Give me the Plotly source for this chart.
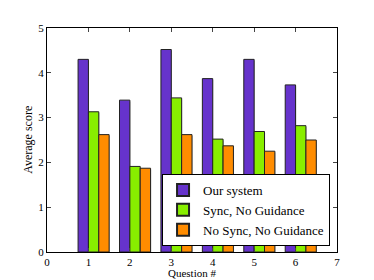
import plotly.graph_objects as go

questions = [1, 2, 3, 4, 5, 6]
series_names = ["Our system", "Sync, No Guidance", "No Sync, No Guidance"]
our_system = [4.30, 3.39, 4.52, 3.87, 4.30, 3.73]
sync_no_guidance = [3.13, 1.91, 3.44, 2.52, 2.69, 2.82]
nosync_no_guidance = [2.62, 1.87, 2.62, 2.37, 2.25, 2.50]
colors = ["#6633CC", "#88EE00", "#FF8C00"]
offsets = [-0.25, 0.0, 0.25]
x_title = "Question #"
y_title = "Average score"

font = "Times New Roman, Liberation Serif, serif"

fig = go.Figure()
for name, vals, c, off in zip(series_names,
                              [our_system, sync_no_guidance, nosync_no_guidance],
                              colors, offsets):
    # drop shadow
    fig.add_trace(go.Bar(x=[q + 0.015 for q in questions], y=vals, width=0.25, offset=off,
                         marker=dict(color="rgba(0,0,0,0.25)", line=dict(width=0)),
                         showlegend=False, hoverinfo="skip", base=[-0.03] * len(vals)))
    fig.add_trace(go.Bar(x=questions, y=vals, name=name, width=0.25, offset=off,
                         marker=dict(color=c, line=dict(color="#222", width=1))))

fig.update_layout(
    width=374, height=280,
    barmode="overlay",
    plot_bgcolor="white", paper_bgcolor="white",
    margin=dict(l=47, r=37, t=28, b=28),
    font=dict(family=font, size=12, color="black"),
    legend=dict(x=0.976, y=0.027, xanchor="right", yanchor="bottom",
                bordercolor="black", borderwidth=1, bgcolor="white",
                font=dict(size=13, family=font), traceorder="normal",
                itemsizing="constant", tracegroupgap=0),
    xaxis=dict(range=[0, 7], tickvals=list(range(0, 8)), ticks="inside", ticklen=4,
               showline=True, linecolor="black", linewidth=1, mirror="ticks",
               showgrid=False, zeroline=False, automargin=False,
               tickfont=dict(size=11)),
    yaxis=dict(range=[0, 5], tickvals=list(range(0, 6)), ticks="inside", ticklen=4,
               showline=True, linecolor="black", linewidth=1, mirror="ticks",
               showgrid=False, zeroline=False, automargin=False,
               tickfont=dict(size=11)),
    annotations=[
        dict(text=x_title, xref="paper", yref="paper", x=0.5, y=-0.058,
             xanchor="center", yanchor="top", showarrow=False,
             font=dict(size=11, family=font)),
        dict(text=y_title, xref="paper", yref="paper", x=-0.035, y=0.5,
             xanchor="right", yanchor="middle", textangle=-90, showarrow=False,
             font=dict(size=12, family=font)),
    ],
)
fig.write_html("out.html", config={"displayModeBar": False},
               post_script="document.body.style.margin='0px';")
